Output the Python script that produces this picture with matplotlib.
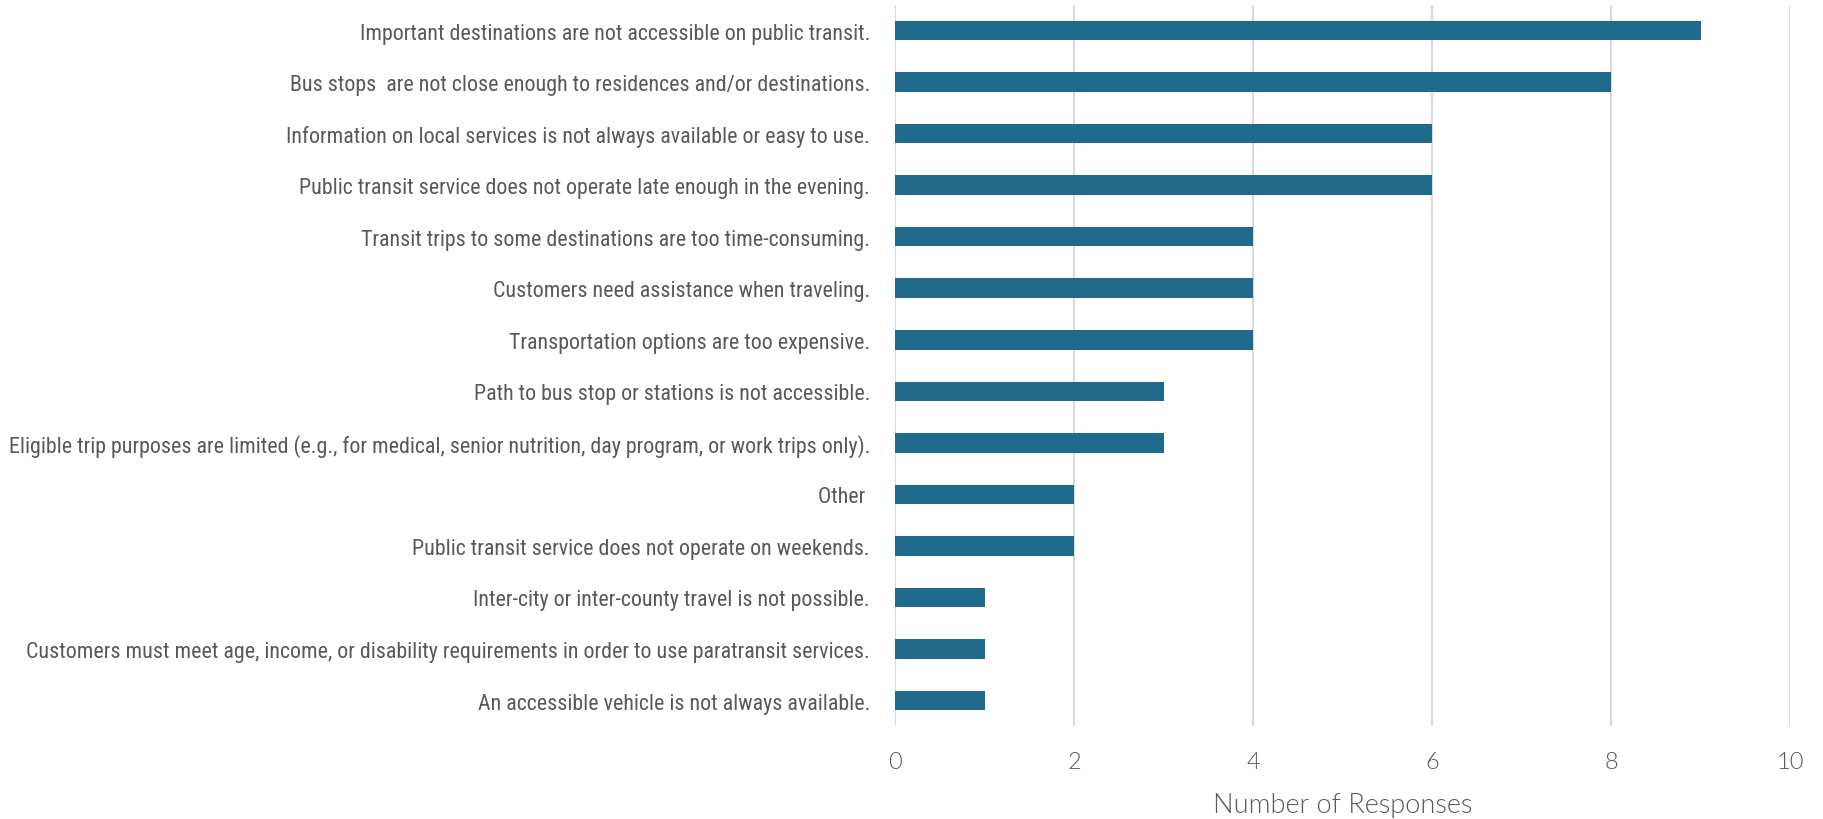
import matplotlib
import matplotlib.pyplot as plt

matplotlib.use("Agg")

categories = [
    "Important destinations are not accessible on public transit.",
    "Bus stops  are not close enough to residences and/or destinations.",
    "Information on local services is not always available or easy to use.",
    "Public transit service does not operate late enough in the evening.",
    "Transit trips to some destinations are too time-consuming.",
    "Customers need assistance when traveling.",
    "Transportation options are too expensive.",
    "Path to bus stop or stations is not accessible.",
    "Eligible trip purposes are limited (e.g., for medical, senior nutrition, day program, or work trips only).",
    "Other ",
    "Public transit service does not operate on weekends.",
    "Inter-city or inter-county travel is not possible.",
    "Customers must meet age, income, or disability requirements in order to use paratransit services.",
    "An accessible vehicle is not always available.",
]
responses = [9, 8, 6, 6, 4, 4, 4, 3, 3, 2, 2, 1, 1, 1]
x_ticks = [0, 2, 4, 6, 8, 10]

BAR_COLOR = "#1F6A8A"
TEXT_COLOR = "#595959"
GRID_COLOR = "#D9D9D9"

fig = plt.figure(figsize=(18.23, 8.2), dpi=100)
ax = fig.add_axes([0.491, 0.113, 0.491, 0.88])

positions = list(range(len(categories)))
ax.barh(positions, responses, height=0.38, color=BAR_COLOR, zorder=3)

ax.set_ylim(len(categories) - 0.5, -0.5)
ax.set_xlim(0, 10)
ax.set_yticks(positions)
ax.set_yticklabels(categories, fontsize=15.8, color=TEXT_COLOR,
                   family=["Roboto Condensed", "DejaVu Sans"])
ax.set_xticks(x_ticks)
ax.set_xticklabels([str(t) for t in x_ticks], fontsize=17, color=TEXT_COLOR,
                   family="Lato", fontweight=300)
ax.set_xlabel("Number of Responses", fontsize=19.5, color=TEXT_COLOR,
              family="Lato", fontweight=300, labelpad=14)

ax.tick_params(axis="both", length=0)
ax.tick_params(axis="y", pad=18)
ax.tick_params(axis="x", pad=18)
ax.grid(axis="x", color=GRID_COLOR, linewidth=1.5, zorder=0)
for spine in ax.spines.values():
    spine.set_visible(False)

fig.savefig("out.png", dpi=100)
